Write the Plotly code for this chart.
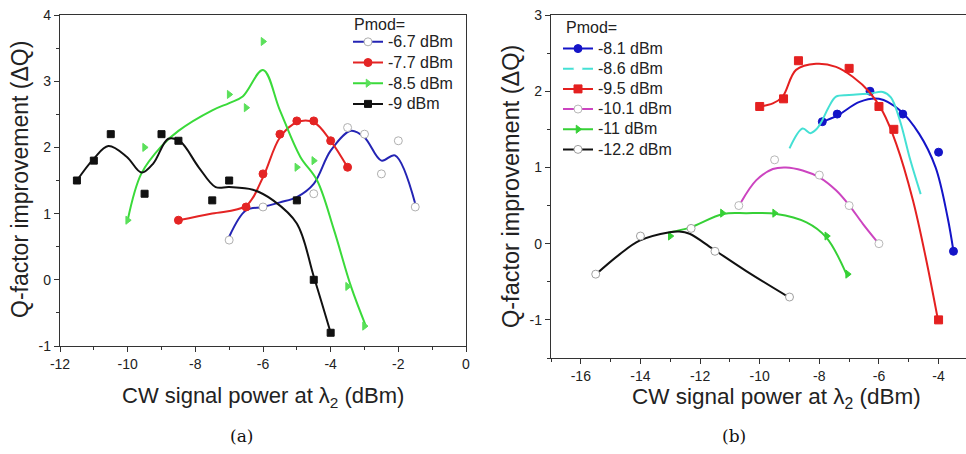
import plotly.graph_objects as go

# ---------------- Panel (a): measured points ----------------
a67_x = [-7, -6, -4.5, -3.5, -3, -2.5, -2, -1.5]
a67_y = [0.6, 1.1, 1.3, 2.3, 2.2, 1.6, 2.1, 1.1]
a77_x = [-8.5, -6.5, -6, -5.5, -5, -4.5, -4, -3.5]
a77_y = [0.9, 1.1, 1.6, 2.2, 2.4, 2.4, 2.1, 1.7]
a85_x = [-10, -9.5, -7, -6.5, -6, -5, -4.5, -3.5, -3]
a85_y = [0.9, 2.0, 2.8, 2.6, 3.6, 1.7, 1.8, -0.1, -0.7]
a90_x = [-11.5, -11, -10.5, -9.5, -9, -8.5, -7.5, -7, -5, -4.5, -4]
a90_y = [1.5, 1.8, 2.2, 1.3, 2.2, 2.1, 1.2, 1.5, 1.2, 0.0, -0.8]

# Panel (a): smoothed fit curves
a67_fx = [-7, -6.5, -6, -5.5, -5, -4.5, -4, -3.4, -3, -2.5, -2.1, -1.5]
a67_fy = [0.65, 1.05, 1.1, 1.17, 1.25, 1.45, 1.95, 2.25, 2.15, 1.8, 1.88, 1.15]
a77_fx = [-8.5, -7.5, -6.5, -6, -5.5, -5, -4.5, -4, -3.5]
a77_fy = [0.9, 1.0, 1.12, 1.55, 2.15, 2.38, 2.38, 2.1, 1.7]
a85_fx = [-10, -9.6, -9, -8.5, -7.5, -7, -6.6, -6, -5.5, -4.9, -4.4, -3.9, -3.4, -2.95]
a85_fy = [0.9, 1.6, 2.02, 2.25, 2.56, 2.67, 2.77, 3.17, 2.56, 1.86, 1.5, 0.75, -0.1, -0.71]
a90_fx = [-11.5, -11, -10.57, -10.03, -9.59, -9.24, -8.8, -8.45, -7.9, -7.4, -7, -6.3, -5.7, -5.0, -4.5, -4]
a90_fy = [1.5, 1.83, 2.02, 1.86, 1.62, 1.76, 2.13, 2.09, 1.7, 1.4, 1.4, 1.36, 1.2, 0.85, 0.05, -0.8]

# ---------------- Panel (b): measured points ----------------
b81_x = [-7.9, -7.4, -6.3, -5.2, -4, -3.5]
b81_y = [1.6, 1.7, 2.0, 1.7, 1.2, -0.1]
b95_x = [-10, -9.2, -8.7, -7, -6, -5.5, -4]
b95_y = [1.8, 1.9, 2.4, 2.3, 1.8, 1.5, -1.0]
b101_x = [-10.7, -9.5, -8, -7, -6]
b101_y = [0.5, 1.1, 0.9, 0.5, 0.0]
b11_x = [-13, -11.25, -9.5, -7.75, -7.05]
b11_y = [0.1, 0.4, 0.4, 0.1, -0.4]
b122_x = [-15.5, -14, -12.3, -11.5, -9]
b122_y = [-0.4, 0.1, 0.2, -0.1, -0.7]

# Panel (b): smoothed fit curves
b81_fx = [-7.9, -7.4, -6.65, -6.0, -5.3, -4.65, -4.1, -3.7, -3.5]
b81_fy = [1.6, 1.68, 1.86, 1.9, 1.75, 1.44, 1.0, 0.35, -0.1]
b86_fx = [-9.0, -8.56, -8.3, -8.1, -7.9, -7.7, -7.44, -7.0, -6.3, -5.87, -5.6, -5.3, -4.95, -4.6]
b86_fy = [1.25, 1.51, 1.45, 1.5, 1.62, 1.78, 1.93, 1.95, 1.97, 1.99, 1.92, 1.62, 1.1, 0.65]
b95_fx = [-10, -9.56, -9.23, -8.78, -8.11, -7.44, -6.88, -6.32, -5.87, -5.42, -4.86, -4.41, -4.02]
b95_fy = [1.8, 1.84, 1.93, 2.28, 2.36, 2.32, 2.19, 1.99, 1.73, 1.31, 0.57, -0.22, -1.0]
b101_fx = [-10.63, -10.12, -9.56, -9.12, -8.56, -8.0, -7.44, -6.99, -6.54, -6.09]
b101_fy = [0.54, 0.83, 0.98, 1.0, 0.96, 0.87, 0.70, 0.5, 0.26, 0.04]
b11_fx = [-13.02, -12.35, -11.23, -10.45, -9.44, -8.43, -7.76, -7.09]
b11_fy = [0.15, 0.21, 0.39, 0.40, 0.39, 0.28, 0.08, -0.40]
b122_fx = [-15.49, -14.7, -14.03, -13.02, -12.7, -12.35, -11.57, -10.45, -8.99]
b122_fy = [-0.4, -0.14, 0.04, 0.15, 0.16, 0.13, -0.07, -0.36, -0.71]

# Tick values / labels
a_xticks = [-12, -10, -8, -6, -4, -2, 0]
a_xlabels = ["-12", "-10", "-8", "-6", "-4", "-2", "0"]
a_yticks = [-1, 0, 1, 2, 3, 4]
a_ylabels = ["-1", "0", "1", "2", "3", "4"]
b_xticks = [-16, -14, -12, -10, -8, -6, -4]
b_xlabels = ["-16", "-14", "-12", "-10", "-8", "-6", "-4"]
b_yticks = [-1, 0, 1, 2, 3]
b_ylabels = ["-1", "0", "1", "2", "3"]

FONT = "Liberation Sans, Arial, sans-serif"
TXT = "#222222"
LEG_SIZE = 16


def big(s):
    return '<span style="font-size:%dpx">%s</span>' % (LEG_SIZE, s)


fig = go.Figure()


def add_series(name, fx, fy, px, py, color, msym, mcolor, mline, msize, xa, ya, leg):
    fig.add_trace(go.Scatter(x=fx, y=fy, mode="lines",
                             line=dict(color=color, width=2, shape="spline", smoothing=1.0),
                             xaxis=xa, yaxis=ya, showlegend=False, hoverinfo="skip"))
    if px is not None:
        fig.add_trace(go.Scatter(x=px, y=py, mode="markers",
                                 marker=dict(symbol=msym, color=mcolor, size=msize, line=dict(color=mline, width=1)),
                                 xaxis=xa, yaxis=ya, showlegend=False))
    fig.add_trace(go.Scatter(x=[None], y=[None], mode="lines+markers", name=big(name),
                             line=dict(color=color, width=2),
                             marker=dict(symbol=msym, color=mcolor, size=msize, line=dict(color=mline, width=1)),
                             xaxis=xa, yaxis=ya, legend=leg))


# Panel (a)
add_series("-6.7 dBm", a67_fx, a67_fy, a67_x, a67_y, "#2424b4", "circle", "white", "#b0b0b0", 8, "x", "y", "legend")
add_series("-7.7 dBm", a77_fx, a77_fy, a77_x, a77_y, "#e42424", "circle", "#e42424", "#e42424", 8, "x", "y", "legend")
add_series("-8.5 dBm", a85_fx, a85_fy, a85_x, a85_y, "#3ada3a", "triangle-right", "#5ae05a", "#5ae05a", 7, "x", "y", "legend")
add_series("-9 dBm", a90_fx, a90_fy, a90_x, a90_y, "#111111", "square", "#111111", "#111111", 7, "x", "y", "legend")

# Panel (b)
add_series("-8.1 dBm", b81_fx, b81_fy, b81_x, b81_y, "#1414c8", "circle", "#1414c8", "#1414c8", 8, "x2", "y2", "legend2")
add_series("-8.6 dBm", b86_fx, b86_fy, None, None, "#44e0d4", "circle", "white", "white", 8, "x2", "y2", "legend2")
add_series("-9.5 dBm", b95_fx, b95_fy, b95_x, b95_y, "#e42020", "square", "#e42020", "#e42020", 8, "x2", "y2", "legend2")
add_series("-10.1 dBm", b101_fx, b101_fy, b101_x, b101_y, "#cc44c0", "circle", "white", "#b8b8b8", 8, "x2", "y2", "legend2")
add_series("-11 dBm", b11_fx, b11_fy, b11_x, b11_y, "#36d036", "triangle-right", "#36d036", "#36d036", 7, "x2", "y2", "legend2")
add_series("-12.2 dBm", b122_fx, b122_fy, b122_x, b122_y, "#111111", "circle", "white", "#a0a0a0", 8, "x2", "y2", "legend2")

W, H = 966, 454

axis_common = dict(showline=True, linecolor="#333333", linewidth=1.3, ticks="outside", ticklen=5,
                   tickcolor="#333333", showgrid=False, zeroline=False, automargin=False,
                   tickfont=dict(family=FONT, size=14, color=TXT))

fig.update_layout(
    template="none",
    width=W, height=H, margin=dict(l=0, r=0, t=0, b=0, pad=0, autoexpand=False),
    paper_bgcolor="white", plot_bgcolor="white",
    xaxis=dict(domain=[60 / W, 466 / W], range=[-12, 0], tickmode="array", tickvals=a_xticks, ticktext=a_xlabels,
               mirror=True, minor=dict(dtick=1, tick0=0, ticklen=3, ticks="outside", tickcolor="#333333"),
               anchor="y", **axis_common),
    yaxis=dict(domain=[1 - 346 / H, 1 - 15 / H], range=[-1, 4], tickmode="array", tickvals=a_yticks, ticktext=a_ylabels,
               mirror=True, minor=dict(dtick=0.5, tick0=0, ticklen=3, ticks="outside", tickcolor="#333333"),
               anchor="x", **axis_common),
    xaxis2=dict(domain=[551 / W, 1.0], range=[-17, -3.08], tickmode="array", tickvals=b_xticks, ticktext=b_xlabels,
                mirror=True, minor=dict(dtick=1, tick0=0, ticklen=3, ticks="outside", tickcolor="#333333"),
                anchor="y2", **axis_common),
    yaxis2=dict(domain=[1 - 358 / H, 1 - 15 / H], range=[-1.5, 3], tickmode="array", tickvals=b_yticks, ticktext=b_ylabels,
                mirror=False, minor=dict(dtick=0.5, tick0=0, ticklen=3, ticks="outside", tickcolor="#333333"),
                anchor="x2", **axis_common),
    legend=dict(x=348 / W, y=1 - 26.5 / H, xanchor="left", yanchor="top", bgcolor="rgba(0,0,0,0)", borderwidth=0,
                font=dict(family=FONT, size=13.6, color=TXT), tracegroupgap=0),
    legend2=dict(x=558 / W, y=1 - 33.5 / H, xanchor="left", yanchor="top", bgcolor="rgba(0,0,0,0)", borderwidth=0,
                 font=dict(family=FONT, size=13.2, color=TXT), tracegroupgap=0),
    showlegend=True,
)

# legend headers
fig.add_annotation(text="Pmod=", x=352 / W, y=1 - 25 / H, xref="paper", yref="paper",
                   xanchor="left", yanchor="middle", showarrow=False, font=dict(family=FONT, size=LEG_SIZE, color=TXT))
fig.add_annotation(text="Pmod=", x=564 / W, y=1 - 27 / H, xref="paper", yref="paper",
                   xanchor="left", yanchor="middle", showarrow=False, font=dict(family=FONT, size=LEG_SIZE, color=TXT))

# axis titles and captions
fig.add_annotation(text="Q-factor improvement (ΔQ)", x=20 / W, y=1 - 180 / H, xref="paper", yref="paper",
                   xanchor="center", yanchor="middle", textangle=-90, showarrow=False,
                   font=dict(family=FONT, size=23, color=TXT))
fig.add_annotation(text="Q-factor improvement (ΔQ)", x=511 / W, y=1 - 187 / H, xref="paper", yref="paper",
                   xanchor="center", yanchor="middle", textangle=-90, showarrow=False,
                   font=dict(family=FONT, size=23.5, color=TXT))
fig.add_annotation(text="CW signal power at λ<sub>2</sub> (dBm)", x=263 / W, y=1 - 397 / H, xref="paper", yref="paper",
                   xanchor="center", yanchor="middle", showarrow=False, font=dict(family=FONT, size=22, color=TXT))
fig.add_annotation(text="CW signal power at λ<sub>2</sub> (dBm)", x=776 / W, y=1 - 398 / H, xref="paper", yref="paper",
                   xanchor="center", yanchor="middle", showarrow=False, font=dict(family=FONT, size=22.5, color=TXT))
fig.add_annotation(text="(a)", x=241 / W, y=1 - 436 / H, xref="paper", yref="paper",
                   xanchor="center", yanchor="middle", showarrow=False,
                   font=dict(family="DejaVu Serif, Liberation Serif, serif", size=17, color="#111111"))
fig.add_annotation(text="(b)", x=734 / W, y=1 - 436 / H, xref="paper", yref="paper",
                   xanchor="center", yanchor="middle", showarrow=False,
                   font=dict(family="DejaVu Serif, Liberation Serif, serif", size=17, color="#111111"))

fig.write_html("out.html", config={"displayModeBar": False},
               post_script="document.body.style.margin='0px';document.body.style.overflow='hidden';")
